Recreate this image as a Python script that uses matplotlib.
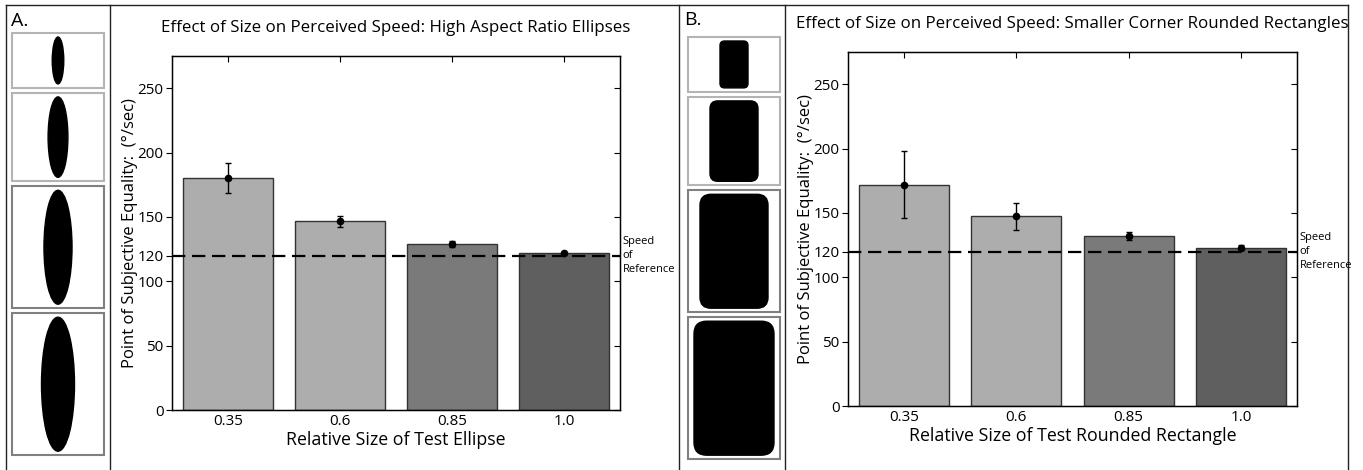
import matplotlib
matplotlib.use("Agg")
import matplotlib.pyplot as plt
from matplotlib.patches import Rectangle, Ellipse, FancyBboxPatch

plt.rcParams['font.family'] = ['Open Sans', 'DejaVu Sans']

# data
sizes = [0.35, 0.6, 0.85, 1.0]
size_labels = ['0.35', '0.6', '0.85', '1.0']
pse_ellipse = [180, 146.5, 129, 121.7]
err_ellipse = [11.6, 4.5, 2.0, 0.8]
pse_rect = [172, 147.3, 132, 123]
err_rect = [26, 10.5, 3.2, 2.0]
ref_speed = 120
yticks = [0, 50, 100, 120, 150, 200, 250]
bar_colors = ['#adadad', '#adadad', '#7a7a7a', '#5f5f5f']
box_colors = ['#b4b4b4', '#b4b4b4', '#808080', '#808080']

W, H = 1363, 470
fig = plt.figure(figsize=(W / 100, H / 100), dpi=100)


def px_axes(left, top, right, bottom):
    return fig.add_axes([left / W, (H - bottom) / H, (right - left) / W, (bottom - top) / H])


def bar_panel(ax, vals, errs, title, xlabel):
    x = list(range(1, len(vals) + 1))
    ax.bar(x, vals, width=0.8, color=bar_colors, edgecolor='#333333', linewidth=1, zorder=1)
    ax.errorbar(x, vals, yerr=errs, fmt='o', color='k', ms=4.5, capsize=2.5,
                elinewidth=1, capthick=1, zorder=3)
    ax.axhline(ref_speed, color='k', lw=1.6, dashes=(6, 3), zorder=2)
    ax.set_xlim(0.5, 4.5)
    ax.set_ylim(0, 275)
    ax.set_yticks(yticks)
    ax.set_xticks(x)
    ax.set_xticklabels(size_labels)
    ax.tick_params(axis='y', direction='out', length=4, labelsize=11, pad=2)
    ax.tick_params(axis='x', direction='in', length=4, bottom=False, top=True, labelsize=11, pad=3)
    ax.set_ylabel('Point of Subjective Equality:  (°/sec)', fontsize=12, labelpad=0)
    ax.set_xlabel(xlabel, fontsize=12.8, labelpad=1)
    ax.set_title(title, fontsize=12.2, pad=17)
    for s in ax.spines.values():
        s.set_linewidth(1)
    tw = ax.twinx()
    tw.set_ylim(ax.get_ylim())
    tw.set_yticks(yticks)
    tw.tick_params(axis='y', direction='in', length=4, labelright=False)
    ax.annotate('Speed\nof\nReference', xy=(1, ref_speed), xycoords=('axes fraction', 'data'),
                xytext=(2, 0), textcoords='offset points', ha='left', va='center',
                fontsize=8, linespacing=1.35)


axA = px_axes(172, 56, 620, 410)
bar_panel(axA, pse_ellipse, err_ellipse,
          'Effect of Size on Perceived Speed: High Aspect Ratio Ellipses',
          'Relative Size of Test Ellipse')
axB = px_axes(848, 52, 1297, 406)
bar_panel(axB, pse_rect, err_rect,
          'Effect of Size on Perceived Speed: Smaller Corner Rounded Rectangles',
          'Relative Size of Test Rounded Rectangle')

# overlay in pixel units for frame and stimulus strips
ov = fig.add_axes([0, 0, 1, 1], zorder=-1)
ov.set_xlim(0, W)
ov.set_ylim(H, 0)
ov.axis('off')

ov.plot([6, 1348], [5, 5], color='#222222', lw=1)
for xv in [6, 110, 679, 785, 1348]:
    ov.plot([xv, xv], [5, H], color='#222222', lw=1)

ov.text(11, 21, 'A.', fontsize=14, va='center', ha='left')
ov.text(684, 20, 'B.', fontsize=14, va='center', ha='left')

full_h = 134


def strip(x0, x1, top, full_w, kind):
    y = top
    cx = (x0 + x1) / 2
    for s, bc in zip(sizes, box_colors):
        h = s * full_h
        w = s * full_w
        bh = h + 8
        ov.add_patch(Rectangle((x0, y), x1 - x0, bh, fill=False, edgecolor=bc, lw=1.5))
        cy = y + bh / 2
        if kind == 'ellipse':
            ov.add_patch(Ellipse((cx, cy), w, h, color='k'))
        else:
            r = 0.16 * w
            ov.add_patch(FancyBboxPatch((cx - w / 2, cy - h / 2), w, h,
                                        boxstyle='round,pad=0,rounding_size=%.2f' % r,
                                        color='k'))
        y += bh + 5


strip(12, 104, 33, 33, 'ellipse')
strip(688, 780, 37, 80, 'rect')

fig.savefig('out.png', dpi=100)
